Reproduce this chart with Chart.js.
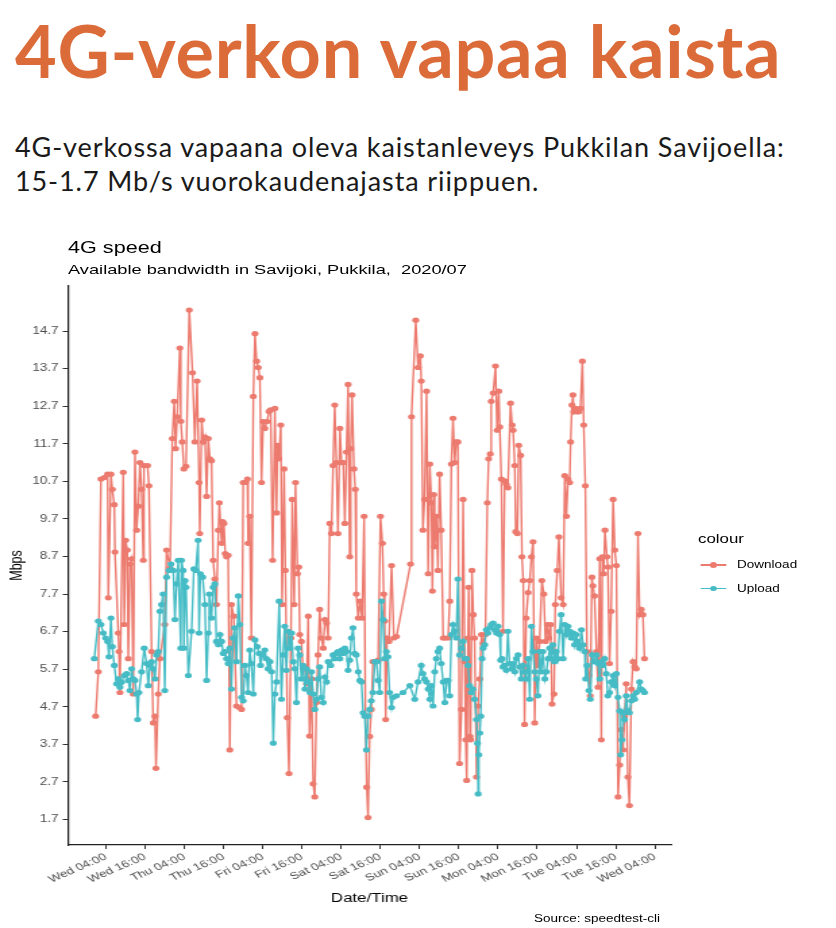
<!DOCTYPE html>
<html>
<head>
<meta charset="utf-8">
<script src="https://cdn.jsdelivr.net/npm/chart.js@4.4.1/dist/chart.umd.min.js"></script>
<style>
  html, body { margin: 0; padding: 0; background: #fff; }
  body { width: 836px; height: 928px; position: relative; overflow: hidden; }
  #heading { position: absolute; left: 15px; top: 14px; margin: 0; font-family: Lato, sans-serif; font-weight: 700; font-size: 72px; line-height: 72px; letter-spacing: 0.7px; color: #DC6B3A; white-space: nowrap; }
  #para { position: absolute; left: 15px; top: 130px; margin: 0; font-family: Lato, sans-serif; font-weight: 400; font-size: 27px; line-height: 34px; letter-spacing: 0.9px; color: #1a1a1a; white-space: nowrap; }
  #fig { position: absolute; left: 0; top: 230px; width: 619.26px; height: 698px; transform: scaleX(1.35); transform-origin: 0 0; font-family: "Liberation Sans", Arial, sans-serif; }
  #fig .t { position: absolute; white-space: nowrap; line-height: 1; }
  #title { left: 50.4px; top: 9.5px; font-size: 16px; color: #000; }
  #subtitle { left: 50.4px; top: 32.5px; font-size: 13.5px; color: #000; }
  #legtitle { left: 517px; top: 302.7px; font-size: 12.5px; color: #000; }
  .key { position: absolute; left: 518.5px; width: 19.3px; height: 1.4px; }
  .dot { position: absolute; left: 7.1px; top: -2px; width: 5.4px; height: 5.4px; border-radius: 50%; }
  .lab { left: 546px; font-size: 10px; color: #000; }
  #caption { left: 395.6px; top: 683.5px; font-size: 10px; color: #000; }
  #cv { position: absolute; left: 0; top: 50px; }
</style>
</head>
<body>
<h1 id="heading">4G-verkon vapaa kaista</h1>
<p id="para">4G-verkossa vapaana oleva kaistanleveys Pukkilan Savijoella:<br>15-1.7 Mb/s vuorokaudenajasta riippuen.</p>
<div id="fig">
  <div class="t" id="title">4G speed</div>
  <div class="t" id="subtitle">Available bandwidth in Savijoki, Pukkila,&nbsp; 2020/07</div>
  <canvas id="cv" width="619" height="648" style="width:619px;height:648px;"></canvas>
  <div class="t" id="legtitle">colour</div>
  <div class="key" id="k1" style="top:334.3px;"><div class="dot"></div></div>
  <div class="t lab" id="l1" style="top:330px;">Download</div>
  <div class="key" id="k2" style="top:358px;"><div class="dot"></div></div>
  <div class="t lab" id="l2" style="top:353.7px;">Upload</div>
  <div class="t" id="caption">Source: speedtest-cli</div>
</div>
<script>
// ---- data (hours relative to Wed 04:00, Mbps) ----
const seriesNames = ["Download", "Upload"];
const seriesColors = ["#EC7A6E", "#45BCC5"];

const dlHours = [-3.16,-2.34,-1.53,-0.51,0.51,0.72,1.53,1.94,2.55,2.75,3.77,3.98,4.28,5.3,5.61,6.02,6.53,6.83,7.34,7.85,8.36,8.87,9.38,9.89,10.4,10.91,11.42,11.62,12.74,13.15,13.97,14.48,14.99,15.3,16.0,16.5,18.0,18.55,19.6,20.3,20.9,21.3,21.8,22.6,22.9,23.35,23.85,24.5,25.5,26.5,27.2,27.9,28.5,28.7,29.3,29.8,30.3,30.8,31.3,31.8,32.3,32.8,33.3,33.8,34.4,34.7,35.4,35.7,36.1,36.5,36.9,37.4,37.9,38.4,39.1,39.96,40.8,41.5,42.0,42.7,43.3,43.5,44.0,44.5,45.1,45.6,46.1,46.6,47.1,47.6,48.1,48.6,49.3,49.9,50.4,51.0,51.7,52.2,52.5,52.9,53.5,53.9,54.5,54.9,55.5,56.0,56.6,57.0,57.6,58.0,58.6,59.0,59.3,59.8,60.3,60.9,61.4,61.9,62.3,62.9,63.4,63.9,64.4,64.9,65.4,65.9,66.5,67.0,67.5,68.0,68.5,69.0,69.5,70.0,70.5,71.0,71.6,72.1,72.6,73.1,73.6,74.1,74.6,74.9,75.3,75.9,76.3,76.6,77.2,77.7,78.4,79.0,79.4,79.8,80.2,80.7,81.2,81.7,82.6,83.3,84.0,84.6,85.0,85.3,85.6,86.0,86.6,87.4,88.1,88.9,93.2,93.5,94.8,95.5,96.2,96.5,97.0,97.5,98.1,98.6,99.1,99.6,99.9,100.3,100.6,101.1,101.6,102.1,102.6,103.2,103.7,104.7,105.2,105.7,106.2,106.7,107.2,107.7,108.2,108.8,109.3,109.8,110.1,110.4,110.8,111.0,111.4,111.6,112.0,112.4,112.8,113.4,113.9,114.4,114.9,115.4,116.1,116.7,117.1,117.6,117.9,118.5,119.2,119.7,120.2,120.5,121.0,121.5,122.0,122.5,123.0,123.8,124.3,124.6,125.1,125.4,125.9,126.3,126.9,127.3,127.7,128.1,128.6,129.2,129.7,130.2,130.7,131.2,131.7,132.2,132.7,133.4,134.0,134.5,135.1,135.5,136.1,136.5,137.1,137.5,138.1,138.6,139.3,139.9,140.4,140.9,141.4,141.9,142.2,142.6,142.9,143.2,143.7,144.1,144.7,145.2,145.8,146.2,146.7,147.2,147.8,148.2,148.7,149.0,149.5,150.1,150.6,151.1,151.6,151.9,152.3,152.7,153.3,153.6,154.1,154.6,155.2,155.7,156.2,156.7,157.2,157.7,158.2,158.7,159.2,159.7,160.2,160.8,161.3,161.8,162.3,162.8,163.3,163.8,164.3,164.8];
const dlMbps = [4.45,5.63,10.76,10.8,10.89,7.6,10.89,10.49,10.08,8.82,6.66,6.17,5.08,10.94,6.89,9.13,8.87,5.98,8.5,8.64,5.04,11.48,9.4,10.04,11.2,10.49,8.6,11.12,11.12,10.58,6.17,4.27,4.45,3.06,5.04,5.98,6.89,8.87,8.4,11.84,12.83,11.57,12.42,14.25,12.3,11.75,11.03,11.1,15.26,13.59,11.75,13.37,10.67,9.31,12.33,11.75,11.88,10.3,11.84,11.3,11.25,8.6,8.1,7.42,9.4,10.13,9.05,9.63,9.58,8.78,8.69,8.73,3.55,7.42,7.11,4.72,4.68,4.63,10.67,10.67,10.76,9.05,9.77,6.53,12.96,14.63,13.9,13.73,13.46,10.67,12.29,12.11,12.29,12.56,12.6,8.6,12.64,9.86,11.66,11.3,12.2,7.42,11.03,8.33,4.41,2.92,6.53,10.22,7.42,10.67,8.24,8.42,6.62,6.44,5.71,5.71,5.31,7.11,3.92,5.44,2.65,2.3,4.81,6.08,7.29,6.53,6.26,7.02,6.93,6.53,9.58,9.31,11.12,12.73,11.2,9.31,12.11,11.2,11.2,9.58,11.48,13.28,8.69,11.57,13.0,11.03,10.49,7.7,7.06,7.51,7.06,9.77,4.45,2.56,1.75,3.91,4.63,5.9,5.9,5.94,9.77,9.05,7.7,6.98,4.36,6.53,6.44,8.46,6.53,6.57,8.5,12.42,14.99,13.73,14.04,13.37,9.4,10.22,13.1,8.24,11.16,10.13,7.78,10.35,8.96,9.77,8.33,10.89,9.4,6.53,6.53,6.53,7.51,11.16,12.38,11.2,11.75,11.75,3.19,4.63,10.22,5.9,3.82,2.74,6.53,7.88,3.91,3.82,8.33,7.15,6.53,2.83,4.72,5.44,6.62,6.39,6.62,10.13,11.3,11.43,12.83,13.05,13.77,12.06,13.1,12.15,10.76,6.71,10.71,10.62,10.53,12.78,12.2,12.06,11.12,9.36,9.31,11.66,11.39,8.69,8.06,4.23,7.06,7.74,8.06,8.69,9.09,4.27,6.53,5.8,6.44,8.06,7.7,6.44,6.89,6.53,6.89,4.77,5.04,7.42,8.33,9.22,7.6,7.42,10.85,9.77,10.76,10.67,11.75,12.73,13.0,12.55,12.64,12.55,12.55,12.64,13.9,12.2,10.58,6.17,5.53,4.99,8.15,7.92,7.65,6.17,5.22,8.64,3.82,8.69,8.24,9.4,8.69,8.42,5.85,7.24,10.22,8.87,8.46,2.3,3.15,4.09,3.55,4.45,5.31,2.83,2.07,5.17,5.9,5.76,5.71,9.31,7.15,7.29,7.15,5.98];

const ulHours = [-3.57,-2.34,-1.53,-0.81,-0.1,0.51,0.92,1.53,1.94,2.55,3.26,3.77,4.28,4.79,5.61,6.32,6.83,7.34,7.85,8.36,8.87,9.38,9.69,10.09,10.91,11.72,12.44,12.95,13.46,13.97,14.48,14.99,15.5,16.0,16.5,17.0,17.5,18.0,18.55,19.3,19.9,20.6,21.1,21.6,22.1,22.9,23.1,23.6,23.85,24.2,24.5,25.2,26.2,26.9,27.5,28.2,28.5,28.9,29.6,30.3,30.8,31.3,31.6,32.3,32.8,33.3,33.8,34.4,34.9,35.4,35.9,36.4,36.9,37.4,37.9,38.4,38.9,39.4,39.96,40.5,41.0,41.5,42.0,42.5,43.0,43.5,44.0,44.5,45.1,45.6,46.3,46.9,47.3,47.9,48.6,49.1,49.6,50.2,50.7,51.2,51.7,52.2,53.0,53.7,54.2,54.7,55.2,55.8,56.3,56.8,57.3,57.8,58.3,58.8,59.3,59.8,60.3,60.9,61.4,61.9,62.4,62.9,63.4,63.9,64.4,64.9,65.4,65.9,66.5,67.0,67.5,68.0,68.8,69.5,70.0,70.5,71.0,71.6,72.1,72.6,73.1,73.6,74.1,74.6,75.1,75.6,76.1,76.6,77.2,77.7,78.2,78.7,79.2,79.7,80.2,80.7,81.2,81.7,82.3,82.8,83.3,83.8,84.3,84.8,85.3,85.8,86.3,86.8,87.4,87.9,88.9,90.9,93.0,94.5,95.5,96.5,97.0,97.5,98.1,98.6,99.1,99.6,100.1,100.6,101.1,101.6,102.1,102.6,103.2,103.7,104.2,104.7,105.2,105.7,106.2,106.7,107.2,107.7,108.2,108.8,109.3,109.8,110.3,110.8,111.3,111.8,112.3,112.8,113.4,113.7,113.9,114.1,114.4,114.7,115.1,115.4,115.9,116.4,116.9,117.4,117.9,118.5,119.0,119.5,120.0,120.5,120.8,121.2,121.5,122.0,122.5,123.0,123.5,124.1,124.6,125.1,125.6,126.1,126.6,127.1,127.6,128.1,128.6,129.2,129.7,130.2,130.7,131.2,131.7,132.2,132.7,133.2,133.7,134.3,134.8,135.3,135.8,136.3,136.8,137.3,137.8,138.3,138.8,139.3,139.9,140.4,140.9,141.4,141.9,142.4,142.9,143.4,143.9,144.4,144.9,145.5,146.0,146.5,146.8,147.2,147.8,148.2,148.8,149.3,150.1,150.6,151.1,151.6,152.1,152.6,153.1,153.6,154.1,154.6,155.2,155.7,156.2,156.7,157.2,157.5,157.9,158.2,158.7,159.2,159.7,160.2,160.8,161.3,161.8,162.3,163.3,163.8,164.3,164.8];
const ulMbps = [5.98,6.98,6.89,6.66,6.53,6.44,6.03,7.06,6.3,5.8,5.31,5.44,5.22,5.35,5.53,5.58,5.4,5.13,5.71,5.44,5.4,5.04,4.36,5.08,5.63,6.26,5.85,5.26,5.8,5.9,5.71,5.44,6.08,6.17,7.24,7.42,7.7,5.13,8.15,8.33,8.5,8.33,7.02,7.97,8.6,6.26,8.6,8.33,6.26,8.06,7.88,5.53,6.71,8.37,8.33,9.13,6.66,8.24,8.15,7.42,5.4,6.66,7.7,7.06,7.88,7.97,6.44,6.35,6.62,6.44,6.12,6.17,5.98,5.85,6.26,5.17,6.53,6.8,5.9,7.65,6.89,4.95,4.86,5.8,5.53,5.08,6.21,5.85,5.04,6.48,6.3,6.12,5.8,6.08,6.21,5.98,5.71,5.9,5.63,3.73,5.04,5.36,7.51,4.9,6.08,6.84,5.67,6.71,6.26,6.66,5.9,5.71,4.81,6.26,6.08,5.44,5.8,5.17,5.71,5.36,5.08,5.63,5.04,4.63,4.9,5.44,5.76,4.95,4.81,5.49,5.36,5.9,5.8,6.08,5.98,6.12,6.17,5.98,6.21,6.12,6.26,6.17,5.67,5.94,6.53,6.8,6.12,6.08,5.63,5.4,5.36,4.54,4.45,3.55,4.45,4.63,4.86,5.08,5.9,5.9,5.4,5.08,7.51,7.02,5.98,6.17,6.03,5.08,4.68,4.95,4.99,5.08,5.26,4.9,5.36,5.8,5.58,5.44,5.36,5.17,4.9,5.26,4.72,5.63,5.98,6.17,6.26,5.85,5.36,4.81,5.4,5.4,4.99,6.62,6.89,6.71,6.53,8.1,6.08,6.26,6.44,5.98,5.98,5.8,5.26,5.08,5.17,4.9,4.36,3.73,2.38,3.42,4.0,4.45,5.98,6.26,6.35,6.75,6.66,6.8,6.89,6.93,6.75,6.66,6.84,6.62,5.94,5.98,5.76,5.8,5.67,6.71,5.85,5.71,5.85,5.63,5.98,6.08,5.76,5.44,5.8,5.63,5.44,5.98,4.9,6.84,6.17,5.63,5.44,4.99,6.17,5.63,6.17,5.44,5.63,5.98,6.26,5.98,6.35,5.9,6.17,5.98,6.71,7.15,5.98,6.89,6.62,6.84,6.71,6.53,6.66,6.35,6.62,6.44,6.26,6.75,6.35,6.17,5.44,5.8,5.13,4.9,6.08,5.9,6.08,5.85,5.44,5.9,5.8,5.98,5.58,4.99,5.08,5.36,5.53,5.26,5.58,4.95,4.59,3.42,3.82,4.54,4.36,4.99,4.59,4.54,4.86,4.99,4.9,5.08,5.36,5.17,5.13,5.08];

const xTickHours = [0,12,24,36,48,60,72,84,96,108,120,132,144,156,168];
const xTickLabels = ["Wed 04:00","Wed 16:00","Thu 04:00","Thu 16:00","Fri 04:00","Fri 16:00","Sat 04:00","Sat 16:00","Sun 04:00","Sun 16:00","Mon 04:00","Mon 16:00","Tue 04:00","Tue 16:00","Wed 04:00"];
const yTickValues = [1.7,2.7,3.7,4.7,5.7,6.7,7.7,8.7,9.7,10.7,11.7,12.7,13.7,14.7];

// ---- build ----
function pts(xs, ys) { return xs.map((x, i) => ({ x: x, y: ys[i] })); }

document.querySelector('#k1').style.background = seriesColors[0];
document.querySelector('#k1 .dot').style.background = seriesColors[0];
document.querySelector('#k2').style.background = seriesColors[1];
document.querySelector('#k2 .dot').style.background = seriesColors[1];

const tickFont = { family: "'Liberation Sans', Arial, sans-serif", size: 10 };
const titleFont = { family: "'Liberation Sans', Arial, sans-serif", size: 12.5 };

new Chart(document.getElementById('cv'), {
  type: 'line',
  data: {
    datasets: [
      { label: seriesNames[0], data: pts(dlHours, dlMbps), borderColor: seriesColors[0], backgroundColor: seriesColors[0],
        borderWidth: 1.4, pointRadius: 2.6, pointBorderWidth: 0, tension: 0, order: 1 },
      { label: seriesNames[1], data: pts(ulHours, ulMbps), borderColor: seriesColors[1], backgroundColor: seriesColors[1],
        borderWidth: 1.4, pointRadius: 2.6, pointBorderWidth: 0, tension: 0, order: 0 }
    ]
  },
  options: {
    responsive: false,
    animation: false,
    events: [],
    layout: { padding: { left: 0, right: 122, top: 6, bottom: 0 } },
    plugins: { legend: { display: false }, tooltip: { enabled: false } },
    scales: {
      x: {
        type: 'linear', min: -11.6, max: 172.9,
        afterBuildTicks: s => { s.ticks = xTickHours.map(v => ({ value: v })); },
        afterFit: s => { s.height = 83; s.paddingLeft = 0; s.paddingRight = 0; },
        ticks: { autoSkip: false, maxRotation: 30, minRotation: 30, padding: 2, color: '#4D4D4D', font: tickFont,
                 callback: (v, i) => xTickLabels[i] },
        grid: { drawOnChartArea: false, drawTicks: true, tickLength: 4, color: '#333', lineWidth: 1 },
        border: { display: true, color: '#222', width: 1.2 },
        title: { display: true, text: 'Date/Time', color: '#000', font: titleFont, padding: { top: 0, bottom: 22 } }
      },
      y: {
        type: 'linear', min: 1.02, max: 15.9,
        afterBuildTicks: s => { s.ticks = yTickValues.map(v => ({ value: v })); },
        afterFit: s => { s.width = 50.4; s.paddingTop = 0; s.paddingBottom = 0; },
        ticks: { padding: 3, color: '#4D4D4D', font: tickFont, callback: v => v.toFixed(1) },
        grid: { drawOnChartArea: false, drawTicks: true, tickLength: 4, color: '#333', lineWidth: 1 },
        border: { display: true, color: '#222', width: 1.2 },
        title: { display: true, text: 'Mbps', color: '#000', font: titleFont, padding: { top: 5, bottom: 0 } }
      }
    }
  }
});
</script>
</body>
</html>
